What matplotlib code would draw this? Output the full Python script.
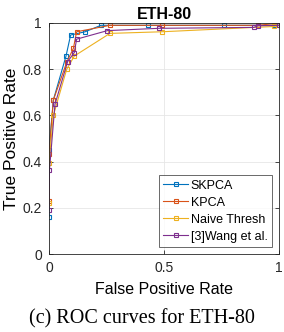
import matplotlib
matplotlib.use("Agg")
import matplotlib.pyplot as plt

# ROC points
skpca_fpr = [0.0, 0.0, 0.019, 0.074, 0.094, 0.157, 0.226, 0.43, 0.76, 0.98, 1.0]
skpca_tpr = [0.16, 0.45, 0.667, 0.857, 0.948, 0.962, 0.99, 0.99, 0.99, 0.99, 1.0]
kpca_fpr = [0.0, 0.0, 0.019, 0.077, 0.106, 0.12, 0.265, 0.49, 0.91, 1.0]
kpca_tpr = [0.23, 0.433, 0.667, 0.83, 0.89, 0.962, 0.99, 0.99, 0.99, 1.0]
naive_fpr = [0.0, 0.0, 0.019, 0.077, 0.11, 0.265, 0.49, 0.98, 1.0]
naive_tpr = [0.22, 0.395, 0.60, 0.80, 0.857, 0.955, 0.962, 0.985, 0.99]
wang_fpr = [0.0, 0.002, 0.026, 0.081, 0.11, 0.12, 0.254, 0.478, 0.89, 0.91, 1.0]
wang_tpr = [0.19, 0.364, 0.648, 0.833, 0.872, 0.93, 0.967, 0.977, 0.981, 0.988, 0.99]

names = ["SKPCA", "KPCA", "Naive Thresh", "[3]Wang et al."]
colors = ["#0072BD", "#D95319", "#EDB120", "#7E2F8E"]

plt.rcParams["font.family"] = ["Liberation Sans", "DejaVu Sans"]

fig = plt.figure(figsize=(2.84, 3.32), dpi=100)
ax = fig.add_axes([49 / 284, 1 - 254 / 332, 230 / 284, 231 / 332])

series = [(skpca_fpr, skpca_tpr), (kpca_fpr, kpca_tpr), (naive_fpr, naive_tpr), (wang_fpr, wang_tpr)]
for (x, y), name, c in zip(series, names, colors):
    ax.plot(x, y, color=c, lw=0.8, marker="s", ms=3.2, mfc="none", mew=0.8, label=name)

ax.set_xlim(0, 1)
ax.set_ylim(0, 1)
ax.set_xticks([0, 0.5, 1])
ax.set_xticklabels(["0", "0.5", "1"])
ax.set_yticks([0, 0.2, 0.4, 0.6, 0.8, 1])
ax.set_yticklabels(["0", "0.2", "0.4", "0.6", "0.8", "1"])
ax.tick_params(direction="in", top=True, right=True, labelsize=10, length=3, width=0.6,
               colors="#262626", pad=5)
ax.grid(True, color="#e6e6e6", lw=0.6)
ax.set_axisbelow(True)
for s in ax.spines.values():
    s.set_color("#262626")
    s.set_linewidth(0.6)

ax.set_title("ETH-80", fontsize=11.5, fontweight="bold", pad=3)
ax.set_xlabel("False Positive Rate", fontsize=11.5, labelpad=5)
ax.set_ylabel("True Positive Rate", fontsize=12.5, labelpad=3)

leg = ax.legend(loc="lower right", fontsize=9, frameon=True, fancybox=False, edgecolor="#262626",
                handlelength=2.0, bbox_to_anchor=(0.97, 0.03), borderaxespad=0,
                labelspacing=0.4, borderpad=0.35, handletextpad=0.2)
leg.get_frame().set_linewidth(0.6)

fig.text(0.5, 13 / 332, "(c) ROC curves for ETH-80", ha="center", va="center",
         fontsize=14.5, family="Liberation Serif")

fig.savefig("out.png", dpi=100)
